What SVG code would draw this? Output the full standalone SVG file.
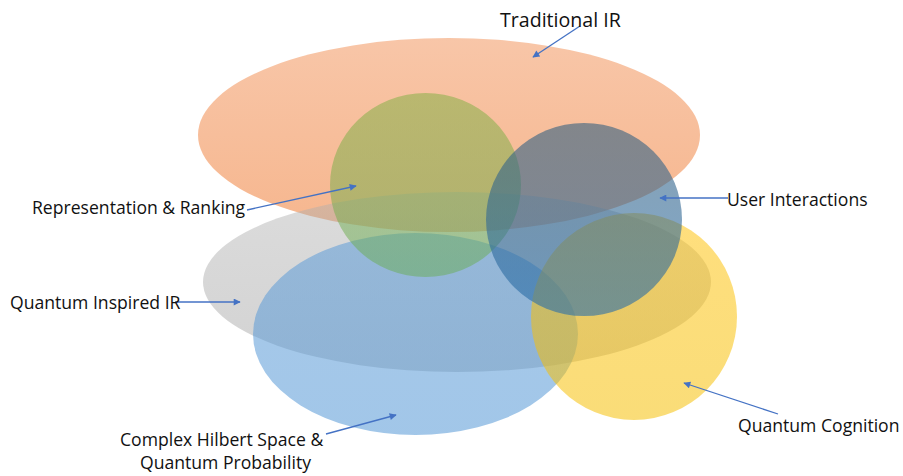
<svg xmlns="http://www.w3.org/2000/svg" width="903" height="476" viewBox="0 0 903 476">
<style>
.lbl{font-family:"Open Sans","Liberation Sans",sans-serif;font-size:17.6px;fill:#111;}
.big{font-size:19.6px;}
.con{stroke:#4472C4;stroke-width:1.3;fill:none;marker-end:url(#ah);}
</style>
<defs>
<marker id="ah" viewBox="0 0 10 10" refX="9" refY="5" markerWidth="9" markerHeight="7" markerUnits="userSpaceOnUse" orient="auto">
<path d="M0,0 L10,5 L0,10 z" fill="#4472C4"/>
</marker>
<linearGradient id="gO" x1="0" y1="0" x2="0" y2="1"><stop offset="0" stop-color="#F8C6A8"/><stop offset="1" stop-color="#F6B68E"/></linearGradient>
<linearGradient id="gG" x1="0" y1="0" x2="0" y2="1"><stop offset="0" stop-color="#B0B0B0"/><stop offset="1" stop-color="#9C9C9C"/></linearGradient>
<linearGradient id="gB" x1="0" y1="0" x2="0" y2="1"><stop offset="0" stop-color="#5F9DD8"/><stop offset="1" stop-color="#5598D6"/></linearGradient>
<linearGradient id="gY" x1="0" y1="0" x2="0" y2="1"><stop offset="0" stop-color="#FFC20A"/><stop offset="1" stop-color="#F5BE00"/></linearGradient>
<linearGradient id="gN" x1="0" y1="0" x2="0" y2="1"><stop offset="0" stop-color="#7CAE3E"/><stop offset="1" stop-color="#68AC54"/></linearGradient>
<linearGradient id="gS" x1="0" y1="0" x2="0" y2="1"><stop offset="0" stop-color="#35607F"/><stop offset="1" stop-color="#296EAA"/></linearGradient>
</defs>
<g id="traditional-ir"><ellipse cx="449" cy="135" rx="251" ry="97" fill="url(#gO)"/></g>
<g id="quantum-inspired-ir"><ellipse cx="457" cy="282" rx="254" ry="90" fill="url(#gG)" opacity="0.45"/></g>
<g id="complex-hilbert-space"><ellipse cx="415.5" cy="334" rx="162.5" ry="101" fill="url(#gB)" opacity="0.55"/></g>
<g id="quantum-cognition"><ellipse cx="634" cy="316.5" rx="103" ry="103.5" fill="url(#gY)" opacity="0.53"/></g>
<g id="representation-ranking"><ellipse cx="425.5" cy="185" rx="95.5" ry="92" fill="url(#gN)" opacity="0.5"/></g>
<g id="user-interactions"><ellipse cx="584" cy="219.5" rx="98" ry="96.5" fill="url(#gS)" opacity="0.6"/></g>
<g id="connectors">
<line class="con" x1="580" y1="26" x2="533" y2="57"/>
<line class="con" x1="247" y1="210" x2="356" y2="186"/>
<line class="con" x1="728" y1="198" x2="660" y2="198"/>
<line class="con" x1="175" y1="302" x2="240" y2="302"/>
<line class="con" x1="326" y1="434" x2="396" y2="415"/>
<line class="con" x1="778" y1="414" x2="684" y2="383"/>
</g>
<g id="labels">
<text class="lbl big" x="500" y="27">Traditional IR</text>
<text class="lbl" x="32" y="214">Representation &amp; Ranking</text>
<text class="lbl" x="727" y="206">User Interactions</text>
<text class="lbl" x="10" y="309">Quantum Inspired IR</text>
<text class="lbl" x="120" y="446">Complex Hilbert Space &amp;</text>
<text class="lbl" x="140" y="469">Quantum Probability</text>
<text class="lbl" x="738" y="432">Quantum Cognition</text>
</g>
</svg>
